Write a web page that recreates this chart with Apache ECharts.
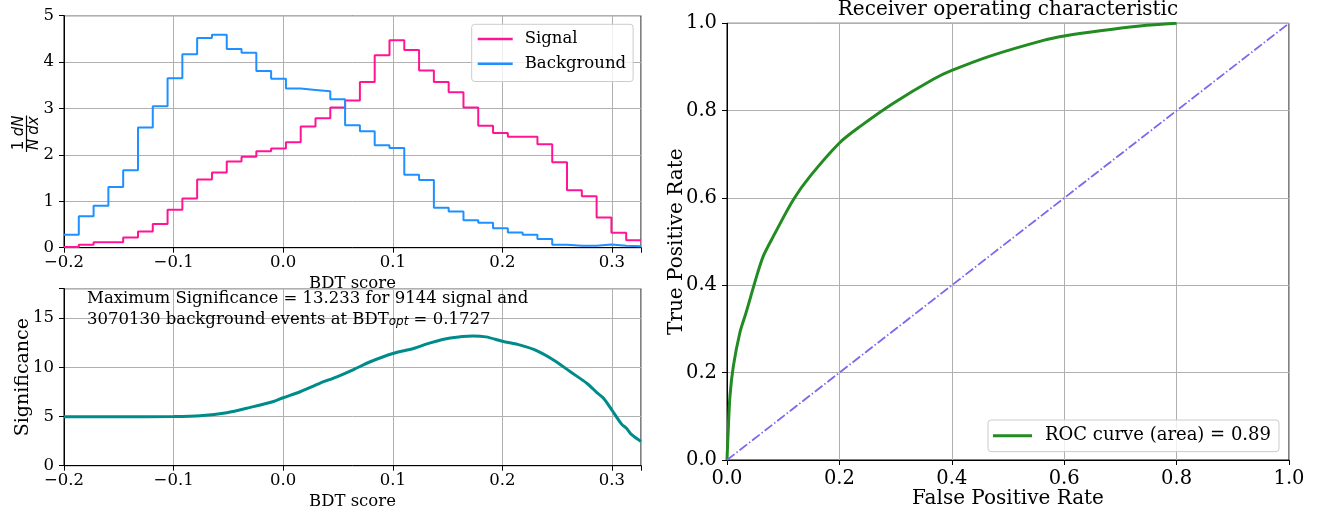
<!DOCTYPE html>
<html><head><meta charset="utf-8">
<script src="https://cdn.jsdelivr.net/npm/echarts@6/dist/echarts.min.js"></script>
<style>html,body{margin:0;padding:0;background:#fff}#c{width:1332px;height:514px}</style>
</head><body><div id="c"></div>
<script>
// ---- data ----
const binLow = -0.2, binHigh = 0.3265, nBins = 39;
const signalHist = [0.015,0.065,0.115,0.115,0.22,0.35,0.51,0.82,1.06,1.47,
  1.62,1.86,1.96,2.08,2.14,2.27,2.61,2.79,3.02,3.17,
  3.57,4.15,4.47,4.26,3.82,3.57,3.35,3.02,2.63,2.47,
  2.39,2.39,2.23,1.84,1.24,1.11,0.65,0.32,0.16];
const backgroundHist = [0.28,0.68,0.905,1.31,1.67,2.59,3.05,3.65,4.17,4.52,
  4.59,4.28,4.20,3.81,3.64,3.43,3.40,3.37,3.20,2.64,
  2.51,2.21,2.15,1.57,1.46,0.86,0.78,0.59,0.54,0.42,
  0.33,0.28,0.19,0.065,0.043,0.043,0.07,0.043,0.03];
const sigX = [-0.2,-0.15,-0.1,-0.0758,-0.0514,-0.030,-0.0088,0.0,0.0155,0.0338,0.049,0.0642,0.0795,0.1,0.119,0.1342,0.1525,0.1727,0.185,0.2,0.2164,0.2317,0.247,0.2621,0.2773,0.2865,0.2925,0.3,0.3088,0.3134,0.318,0.3265];
const sigY = [4.98,4.98,5.0,5.08,5.39,5.93,6.53,6.91,7.52,8.40,9.04,9.78,10.57,11.41,11.92,12.49,12.98,13.2,13.1,12.66,12.26,11.68,10.73,9.55,8.36,7.41,6.84,5.65,4.23,3.79,3.15,2.47];
const rocFpr = [0,0.002,0.0053,0.0113,0.023,0.0338,0.0528,0.0646,0.0824,0.118,0.148,0.2,0.237,0.296,0.367,0.4,0.468,0.563,0.6,0.664,0.735,0.8];
const rocTpr = [0,0.063,0.147,0.215,0.292,0.337,0.421,0.467,0.512,0.596,0.650,0.726,0.764,0.817,0.872,0.892,0.925,0.961,0.971,0.983,0.994,1.0];
const diagX = [0,1], diagY = [0,1];
const rocLabel = 'ROC curve (area) = 0.89';

// ---- helpers ----
const FF = 'DejaVu Serif';
const binW = (binHigh - binLow) / nBins;
function histData(vals){
  const d = vals.map((v,i)=>[binLow + i*binW, v]);
  d.push([binHigh, vals[vals.length-1]]);
  return d;
}
function fmtStep(step, dec){
  return function(v){
    const k = v/step;
    if (Math.abs(k - Math.round(k)) > 1e-6) return '';
    let x = Math.abs(v) < 1e-9 ? 0 : v;
    return x.toFixed(dec).replace('-', '\u2212');
  };
}
function xAx(grid, min, max, interval, dec, fs, margin, name, nameGap, nfs){
  return {type:'value', gridIndex:grid, min, max, interval,
    axisLine:{show:true, onZero:false, lineStyle:{color:'#000', width:1}},
    axisTick:{show:true, inside:false, length:5, lineStyle:{color:'#000', width:1}},
    axisLabel:{color:'#000', fontFamily:FF, fontSize:fs, margin, formatter:fmtStep(interval, dec), showMaxLabel:true},
    splitLine:{show:true, lineStyle:{color:'#b0b0b0', width:1}},
    name, nameLocation:'middle', nameGap, nameMoveOverlap:false,
    nameTextStyle:{color:'#000', fontFamily:FF, fontSize:nfs}};
}
function yAx(grid, min, max, interval, dec, fs, margin, name, nameGap, nfs){
  const a = xAx(grid, min, max, interval, dec, fs, margin, name, nameGap, nfs);
  a.nameRotate = 90;
  return a;
}

const chart = echarts.init(document.getElementById('c'), null, {renderer:'canvas'});
chart.setOption({
  backgroundColor:'#fff',
  animation:false,
  title:{text:'Receiver operating characteristic', left:1008, top:0, textAlign:'center', padding:0,
    textStyle:{fontFamily:FF, fontSize:20, fontWeight:'normal', color:'#000'}},
  grid:[
    {left:64, top:15.7, width:577, height:232, show:true, borderColor:'#000', borderWidth:1},
    {left:64, top:288.7, width:577, height:177, show:true, borderColor:'#000', borderWidth:1},
    {left:727, top:23.3, width:562, height:437.7, show:true, borderColor:'#000', borderWidth:1}
  ],
  xAxis:[
    xAx(0, binLow, binHigh, 0.1, 1, 16.5, 7, 'BDT score', 28, 16.5),
    xAx(1, binLow, binHigh, 0.1, 1, 16.5, 7, 'BDT score', 28, 16.5),
    xAx(2, 0, 1, 0.2, 1, 19.5, 9, 'False Positive Rate', 29, 20)
  ],
  yAxis:[
    yAx(0, 0, 5, 1, 0, 16.5, 10, '', 30, 16),
    yAx(1, 0, 18, 5, 0, 16.5, 10, 'Significance', 31, 19),
    yAx(2, 0, 1, 0.2, 1, 19.5, 10, 'True Positive Rate', 40, 20)
  ],
  legend:[
    {data:[{name:'Signal', icon:'rect'},{name:'Background', icon:'rect'}], orient:'vertical', left:471.7, top:24.3, padding:[5,7,8,6],
     itemWidth:35, itemHeight:2.5, itemGap:5, backgroundColor:'rgba(255,255,255,0.8)',
     borderColor:'#cccccc', borderWidth:1, borderRadius:3,
     textStyle:{fontFamily:FF, fontSize:16.5, lineHeight:19.6, color:'#000', padding:[0,0,0,7]}},
    {data:[{name:rocLabel, icon:'rect'}], orient:'vertical', left:988, top:420, padding:[6,8,6,5],
     itemWidth:39, itemHeight:3, backgroundColor:'rgba(255,255,255,0.8)',
     borderColor:'#cccccc', borderWidth:1, borderRadius:3,
     textStyle:{fontFamily:FF, fontSize:18, lineHeight:19.6, color:'#000', padding:[0,0,0,8]}}
  ],
  graphic:[
    {type:'group', x:26.5, y:133.5, rotation:Math.PI/2, children:[
      {type:'text', x:-12, y:-7.5, style:{text:'1', fontFamily:'DejaVu Sans', fontSize:15, fill:'#000', align:'center', verticalAlign:'middle'}},
      {type:'text', x:7.5, y:-7.5, style:{text:'dN', fontFamily:'DejaVu Sans', fontStyle:'italic', fontSize:15, fill:'#000', align:'center', verticalAlign:'middle'}},
      {type:'line', shape:{x1:-18.5, y1:0, x2:18, y2:0}, style:{stroke:'#000', lineWidth:1.2}},
      {type:'text', x:-11, y:7.5, style:{text:'N', fontFamily:'DejaVu Sans', fontStyle:'italic', fontSize:15, fill:'#000', align:'center', verticalAlign:'middle'}},
      {type:'text', x:8, y:7.5, style:{text:'dx', fontFamily:'DejaVu Sans', fontStyle:'italic', fontSize:15, fill:'#000', align:'center', verticalAlign:'middle'}}
    ]},
    {type:'text', x:87, y:287, z:100, style:{
      text:'{n|Maximum Significance = 13.233 for 9144 signal and}\n{n|3070130 background events at BDT}{s|opt}{n| = 0.1727}',
      fill:'#000', verticalAlign:'top', align:'left',
      rich:{
        n:{fontFamily:FF, fontSize:16.5, lineHeight:20.4, fill:'#000', verticalAlign:'bottom'},
        s:{fontFamily:'DejaVu Sans', fontStyle:'italic', fontSize:12, lineHeight:12, fill:'#000', verticalAlign:'bottom'}
      }}}
  ],
  series:[
    {name:'Signal', type:'line', xAxisIndex:0, yAxisIndex:0, step:'end', symbol:'none',
     data:histData(signalHist), color:'#ff1493', lineStyle:{color:'#ff1493', width:2}},
    {name:'Background', type:'line', xAxisIndex:0, yAxisIndex:0, step:'end', symbol:'none',
     data:histData(backgroundHist), color:'#1e90ff', lineStyle:{color:'#1e90ff', width:2}},
    {name:'Significance', type:'line', xAxisIndex:1, yAxisIndex:1, symbol:'none', smooth:0.3,
     data:sigX.map((x,i)=>[x, sigY[i]]), color:'#008b8b', lineStyle:{color:'#008b8b', width:3}},
    {name:rocLabel, type:'line', xAxisIndex:2, yAxisIndex:2, symbol:'none', smooth:0.3,
     data:rocFpr.map((x,i)=>[x, rocTpr[i]]), color:'#228b22', lineStyle:{color:'#228b22', width:3}},
    {name:'diag', type:'line', xAxisIndex:2, yAxisIndex:2, symbol:'none',
     data:diagX.map((x,i)=>[x, diagY[i]]), color:'#7b68ee', lineStyle:{color:'#7b68ee', width:1.8, type:[9.6,2.4,1.5,2.4]}}
  ]
});
</script></body></html>
